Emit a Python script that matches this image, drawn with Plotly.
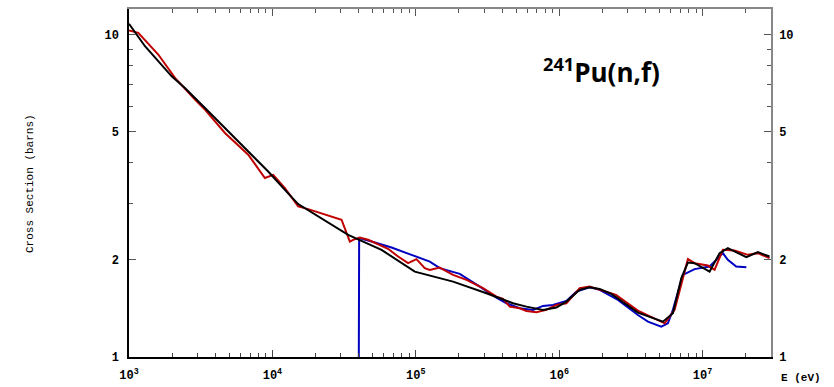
import plotly.graph_objects as go
import math

# Evaluated (black) curve
black_E = [1000, 1293, 1985, 2455, 3570, 5480, 9350, 12220, 15130, 33750, 57680, 98400,
           1.82e5, 3.11e5, 4.76e5, 5.91e5, 7.71e5, 9.56e5, 1.122e6, 1.39e6, 1.63e6, 1.915e6,
           2.31e6, 3.54e6, 5.29e6, 6.21e6, 7.11e6, 7.90e6, 8.80e6, 1.119e7, 1.314e7, 1.50e7,
           1.76e7, 2.02e7, 2.43e7, 2.93e7]
black_sig = [10.80, 9.20, 7.42, 6.83, 5.78, 4.78, 3.76, 3.30, 2.98, 2.393, 2.149, 1.840,
             1.713, 1.577, 1.468, 1.433, 1.400, 1.423, 1.485, 1.615, 1.646, 1.626,
             1.569, 1.373, 1.287, 1.367, 1.756, 1.963, 1.954, 1.840, 2.099, 2.176,
             2.099, 2.040, 2.114, 2.049]

# Red curve
red_E = [1000, 1161, 1600, 2093, 2884, 3385, 4667, 6783, 8864, 10130, 12220, 15130, 17760,
         30350, 34670, 36560, 40720, 46520, 64120, 75300, 88400, 1.011e5, 1.155e5, 1.252e5,
         1.47e5, 1.82e5, 2.256e5, 2.945e5, 3.65e5, 4.06e5, 4.52e5, 5.31e5, 5.91e5, 6.93e5,
         8.14e5, 9.56e5, 1.122e6, 1.39e6, 1.63e6, 1.915e6, 2.49e6, 3.54e6, 5.45e6, 6.38e6,
         7.90e6, 8.80e6, 1.089e7, 1.212e7, 1.385e7, 1.671e7, 2.07e7, 2.43e7, 2.93e7]
red_sig = [10.29, 10.12, 8.67, 7.34, 6.28, 5.85, 4.95, 4.24, 3.59, 3.67, 3.34, 2.93, 2.875,
           2.665, 2.281, 2.309, 2.347, 2.309, 2.165, 2.049, 1.954, 2.011, 1.886, 1.863,
           1.894, 1.797, 1.734, 1.635, 1.539, 1.514, 1.433, 1.416, 1.389, 1.377,
           1.400, 1.450, 1.468, 1.635, 1.653, 1.615, 1.558, 1.392, 1.272, 1.400,
           2.011, 1.954, 1.921, 1.863, 2.149, 2.139, 2.074, 2.099, 2.025]

# Blue curve
blue_E = [39880, 40270, 49130, 67730, 93300, 1.252e5, 1.47e5, 2.026e5, 2.793e5, 3.65e5,
          4.29e5, 5.31e5, 6.57e5, 7.71e5, 9.05e5, 1.122e6, 1.318e6, 1.63e6, 1.915e6, 2.57e6,
          3.54e6, 4.16e6, 5.15e6, 5.73e6, 6.21e6, 7.29e6, 8.80e6, 1.119e7, 1.246e7, 1.385e7,
          1.50e7, 1.717e7, 2.02e7]
blue_sig = [0.5, 2.337, 2.281, 2.185, 2.074, 1.977, 1.886, 1.810, 1.653, 1.528,
            1.468, 1.416, 1.400, 1.440, 1.450, 1.492, 1.595, 1.646, 1.615, 1.503,
            1.350, 1.287, 1.242, 1.272, 1.400, 1.797, 1.873, 1.908, 2.001, 2.099,
            2.001, 1.908, 1.899]

x_tickvals = [1e3, 1e4, 1e5, 1e6, 1e7]
x_ticktext = ["10<sup>3</sup>", "10<sup>4</sup>", "10<sup>5</sup>", "10<sup>6</sup>", "10<sup>7</sup>"]
y_tickvals = [1, 2, 5, 10]
y_ticktext = ["1", "2", "5", "10"]

x_minor = [m * 10 ** d for d in range(3, 8) for m in range(2, 10) if m * 10 ** d <= 3e7]
y_minor = [3, 4, 6, 7, 8, 9]

XMIN, XMAX = 1e3, 3e7
YMIN, YMAX = 1, 12

xr = [math.log10(XMIN), math.log10(XMAX)]
yr = [math.log10(YMIN), math.log10(YMAX)]

fig = go.Figure()
fig.add_trace(go.Scatter(x=blue_E, y=blue_sig, mode="lines",
                         line=dict(color="#0000c0", width=2), showlegend=False))
fig.add_trace(go.Scatter(x=red_E, y=red_sig, mode="lines",
                         line=dict(color="#c00000", width=2), showlegend=False))
fig.add_trace(go.Scatter(x=black_E, y=black_sig, mode="lines",
                         line=dict(color="#000000", width=2), showlegend=False))
# invisible trace to activate the mirror axes
fig.add_trace(go.Scatter(x=[XMIN], y=[YMIN], xaxis="x2", yaxis="y2", mode="markers",
                         marker=dict(opacity=0), showlegend=False, hoverinfo="skip"))

tickfont = dict(family="Liberation Mono", size=12, color="#000", weight="bold")

fig.update_layout(
    width=834, height=387,
    margin=dict(l=129, r=63, t=9, b=30, autoexpand=False),
    paper_bgcolor="white", plot_bgcolor="white",
    xaxis=dict(type="log", range=xr, showgrid=False, zeroline=False, automargin=False,
               showline=True, linecolor="#000", linewidth=1.5,
               ticks="inside", ticklen=7, tickcolor="#444", tickwidth=1,
               tickvals=x_tickvals, ticktext=x_ticktext, tickfont=tickfont,
               ticklabelstandoff=6,
               minor=dict(tickvals=x_minor, ticks="inside", ticklen=4,
                          tickcolor="#444", showgrid=False)),
    yaxis=dict(type="log", range=yr, showgrid=False, zeroline=False, automargin=False,
               showline=True, linecolor="#000", linewidth=1.5,
               ticks="inside", ticklen=7, tickcolor="#555", tickwidth=1,
               tickvals=y_tickvals, ticktext=y_ticktext, tickfont=tickfont,
               ticklabelstandoff=6,
               minor=dict(tickvals=y_minor, ticks="inside", ticklen=4,
                          tickcolor="#555", showgrid=False)),
    xaxis2=dict(type="log", range=xr, overlaying="x", side="top", showgrid=False,
                zeroline=False, showline=True, linecolor="#888", linewidth=1.5,
                automargin=False,
                ticks="inside", ticklen=7, tickcolor="#555", tickvals=x_tickvals,
                showticklabels=False,
                minor=dict(tickvals=x_minor, ticks="inside", ticklen=4,
                           tickcolor="#555", showgrid=False)),
    yaxis2=dict(type="log", range=yr, overlaying="y", side="right", showgrid=False,
                zeroline=False, showline=True, linecolor="#888", linewidth=1.5,
                automargin=False,
                ticks="inside", ticklen=7, tickcolor="#555",
                tickvals=y_tickvals, ticktext=y_ticktext, tickfont=tickfont,
                ticklabelstandoff=4,
                minor=dict(tickvals=y_minor, ticks="inside", ticklen=4,
                           tickcolor="#555", showgrid=False)),
    annotations=[
        dict(text="<sup>241</sup>Pu(n,f)", x=601, y=71, showarrow=False,
             font=dict(family="Open Sans", size=26, color="#000", weight="bold")),
        dict(text="Cross Section (barns)", x=30, y=184, textangle=-90, showarrow=False,
             font=dict(family="Liberation Mono", size=11, color="#000")),
        dict(text="E (eV)", x=801, y=378, showarrow=False,
             font=dict(family="Liberation Mono", size=11, color="#000", weight="bold")),
    ],
)

# convert pixel-placed annotations to paper coordinates
W, H = 834, 387
L, R, T, B = 129, 63, 9, 30
pw, ph = W - L - R, H - T - B
new_ann = []
for a in fig.layout.annotations:
    px, py = a.x, a.y
    a.update(xref="paper", yref="paper", x=(px - L) / pw, y=(H - B - py) / ph,
             xanchor="center", yanchor="middle")
    new_ann.append(a)
fig.layout.annotations = new_ann

fig.write_html("out.html")
